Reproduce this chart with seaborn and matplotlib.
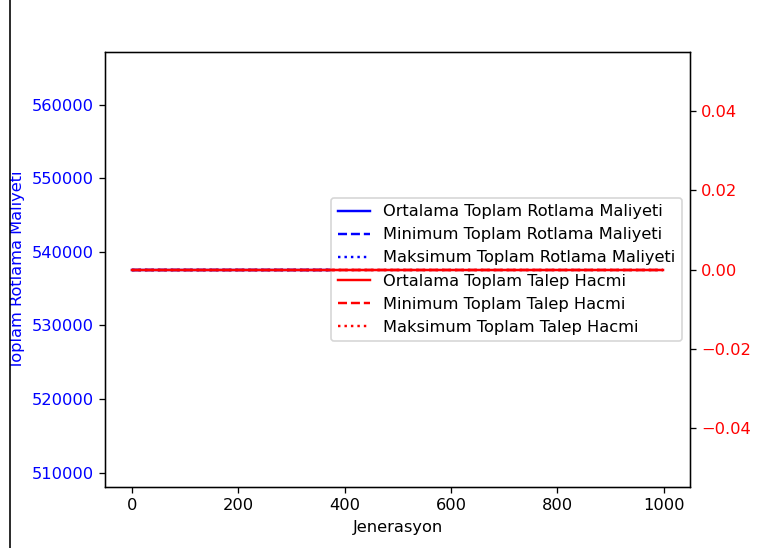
import numpy as np
import pandas as pd
import matplotlib
matplotlib.use("Agg")
import matplotlib.pyplot as plt
import seaborn as sns
from matplotlib.patches import Rectangle
from matplotlib.lines import Line2D

# Data (all series are constant across generations)
generations = [0, 999]
avg_cost = [537600, 537600]
min_cost = [537600, 537600]
max_cost = [537600, 537600]
avg_demand = [0.0, 0.0]
min_demand = [0.0, 0.0]
max_demand = [0.0, 0.0]

cost_labels = ["Ortalama Toplam Rotlama Maliyeti",
               "Minimum Toplam Rotlama Maliyeti",
               "Maksimum Toplam Rotlama Maliyeti"]
demand_labels = ["Ortalama Toplam Talep Hacmi",
                 "Minimum Toplam Talep Hacmi",
                 "Maksimum Toplam Talep Hacmi"]

plt.rcParams['font.family'] = ['DejaVu Sans']

DPI = 117
fig = plt.figure(figsize=(757/DPI, 548/DPI), dpi=DPI)
ax1 = fig.add_axes([105/757, (548-487)/548, 585/757, 435/548])
ax2 = ax1.twinx()

styles = ['-', '--', ':']
for vals, lab, ls in zip([avg_cost, min_cost, max_cost], cost_labels, styles):
    sns.lineplot(x=generations, y=vals, ax=ax1, color='blue', linestyle=ls, label=lab)
for vals, lab, ls in zip([avg_demand, min_demand, max_demand], demand_labels, styles):
    sns.lineplot(x=generations, y=vals, ax=ax2, color='red', linestyle=ls, label=lab)

ax1.set_xlabel('Jenerasyon')
ax1.set_ylabel('Toplam Rotlama Maliyeti', color='blue')
ax2.set_ylabel('Toplam Talep Hacmi', color='red')
ax1.tick_params(axis='y', labelcolor='blue')
ax2.tick_params(axis='y', labelcolor='red')

h1, l1 = ax1.get_legend_handles_labels()
h2, l2 = ax2.get_legend_handles_labels()
if ax2.get_legend() is not None:
    ax2.get_legend().remove()
ax1.legend(h1 + h2, l1 + l2, loc='center right')

# screenshot border on the left
fig.patches.append(Rectangle((0, 0), 9.5/757, 1, transform=fig.transFigure,
                             facecolor='white', edgecolor='none', zorder=20))
fig.lines.append(Line2D([9.5/757, 9.5/757], [0, 1], transform=fig.transFigure,
                        color='black', linewidth=1.0, zorder=21))

fig.savefig('out.png', dpi=DPI)
